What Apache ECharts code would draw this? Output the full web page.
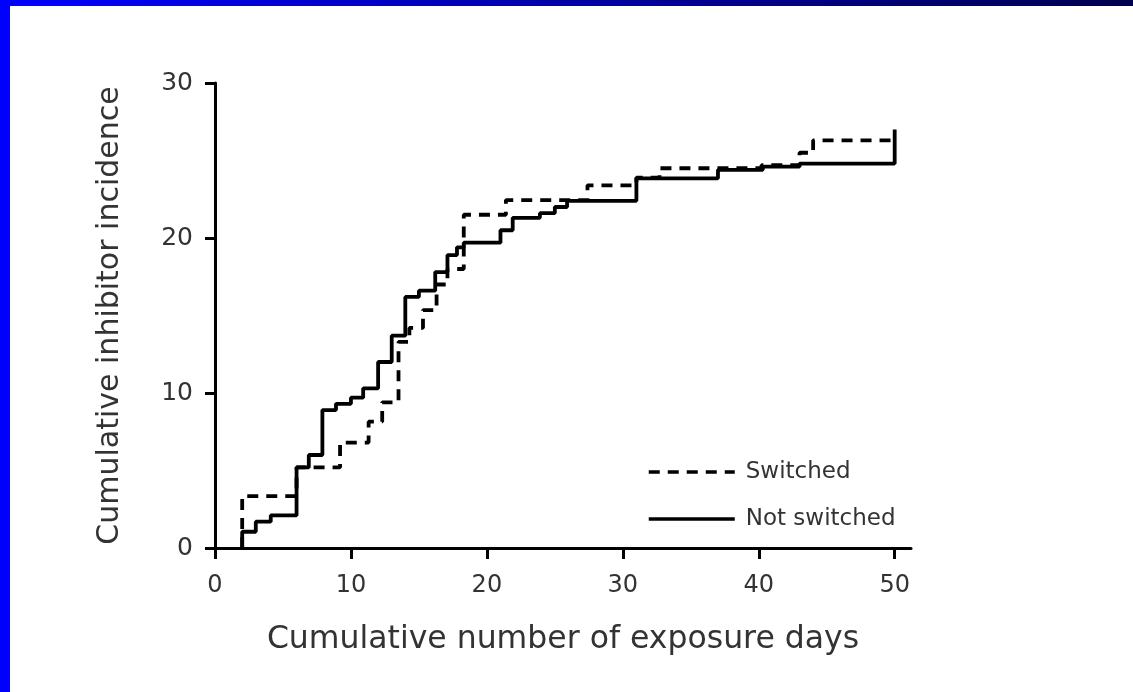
<!DOCTYPE html>
<html>
<head>
<meta charset="utf-8">
<script src="https://cdn.jsdelivr.net/npm/echarts@6/dist/echarts.min.js"></script>
<style>
  html, body { margin: 0; padding: 0; background: #fff; }
  #chart { width: 1133px; height: 692px; }
</style>
</head>
<body>
<div id="chart"></div>
<script>
// data (exposure days -> cumulative incidence, step at each x)
var switchedX = [2, 2, 6, 9.2, 11.3, 12.3, 13.5, 14.3, 15.3, 16.3, 17.1, 18.3, 21.4, 27.4, 31.0, 32.7, 40.2, 43.0, 44.0, 50];
var switchedY = [0, 3.35, 5.2, 6.8, 8.15, 9.4, 13.3, 14.2, 15.35, 17.0, 18.0, 21.5, 22.45, 23.4, 23.9, 24.5, 24.7, 25.5, 26.3, 26.3];

var notSwitchedX = [2, 2, 3.0, 4.1, 6.0, 6.9, 7.9, 8.9, 10.0, 10.9, 12.0, 13.0, 14.0, 15.0, 16.2, 17.1, 17.8, 18.3, 21.0, 21.9, 23.9, 25.0, 25.9, 31.0, 37.0, 40.3, 43.0, 50, 50];
var notSwitchedY = [0, 1.05, 1.7, 2.1, 5.2, 6.0, 8.9, 9.3, 9.7, 10.3, 12.0, 13.7, 16.2, 16.6, 17.8, 18.9, 19.4, 19.7, 20.5, 21.3, 21.6, 22.0, 22.4, 23.85, 24.4, 24.6, 24.8, 24.8, 27.0];

var xTicks = [0, 10, 20, 30, 40, 50];
var yTicks = [0, 10, 20, 30];

function pairs(xs, ys) {
  var out = [];
  for (var i = 0; i < xs.length; i++) out.push([xs[i], ys[i]]);
  return out;
}

var font = 'DejaVu Sans';
var textColor = '#333';

var myChart = echarts.init(document.getElementById('chart'));
myChart.setOption({
  animation: false,
  backgroundColor: '#fff',
  graphic: [
    { type: 'rect', shape: { x: 0, y: 0, width: 10, height: 692 }, style: { fill: '#0000ff' } },
    {
      type: 'rect', shape: { x: 0, y: 0, width: 1133, height: 6 },
      style: {
        fill: new echarts.graphic.LinearGradient(0, 0, 1, 0, [
          { offset: 0, color: '#0000ff' },
          { offset: 1, color: '#000050' }
        ])
      }
    }
  ],
  grid: { left: 215, right: 222, top: 83, bottom: 144 },
  legend: {
    orient: 'vertical',
    left: 642,
    top: 453,
    itemWidth: 86,
    itemHeight: 14,
    itemGap: 19,
    data: ['Switched', 'Not switched'],
    itemStyle: { opacity: 0 },
    lineStyle: { width: 3.5 },
    textStyle: { fontFamily: font, fontSize: 23, color: textColor, padding: [0, 0, 0, 6], lineHeight: 28 }
  },
  xAxis: {
    type: 'value',
    min: 0,
    max: 51.2,
    name: 'Cumulative number of exposure days',
    nameLocation: 'middle',
    nameGap: 76,
    nameTextStyle: { fontFamily: font, fontSize: 31.5, color: textColor },
    splitLine: { show: false },
    axisLine: { lineStyle: { color: '#000', width: 3 } },
    axisTick: { length: 11, lineStyle: { color: '#000', width: 3 }, customValues: xTicks },
    axisLabel: { fontFamily: font, fontSize: 24, color: textColor, margin: 26, customValues: xTicks }
  },
  yAxis: {
    type: 'value',
    min: 0,
    max: 30,
    interval: 10,
    name: 'Cumulative inhibitor incidence',
    nameLocation: 'middle',
    nameGap: 90,
    nameTextStyle: { fontFamily: font, fontSize: 30, color: textColor },
    splitLine: { show: false },
    axisLine: { show: true, lineStyle: { color: '#000', width: 3 } },
    axisTick: { show: true, length: 10, lineStyle: { color: '#000', width: 3 }, customValues: yTicks },
    axisLabel: { fontFamily: font, fontSize: 25, color: textColor, margin: 22, customValues: yTicks }
  },
  series: [
    {
      name: 'Switched',
      type: 'line',
      step: 'end',
      symbol: 'none',
      color: '#000',
      lineStyle: { color: '#000', width: 3.8, type: [11, 8] },
      data: pairs(switchedX, switchedY)
    },
    {
      name: 'Not switched',
      type: 'line',
      step: 'end',
      symbol: 'none',
      color: '#000',
      lineStyle: { color: '#000', width: 3.8, type: 'solid' },
      data: pairs(notSwitchedX, notSwitchedY)
    }
  ]
});
</script>
</body>
</html>
